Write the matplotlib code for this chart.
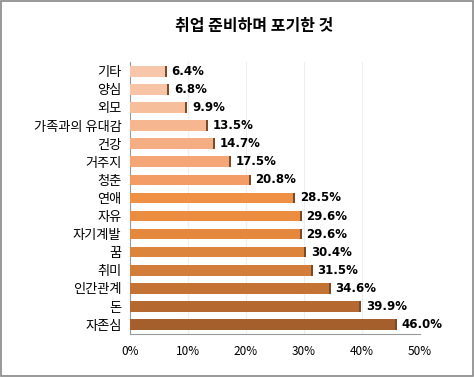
import matplotlib
matplotlib.use('Agg')
import matplotlib.pyplot as plt
from matplotlib.patches import Rectangle
import numpy as np

plt.rcParams['font.family'] = ['Noto Sans CJK KR', 'DejaVu Sans']

categories = ['기타', '양심', '외모', '가족과의 유대감', '건강', '거주지', '청춘',
              '연애', '자유', '자기계발', '꿈', '취미', '인간관계', '돈', '자존심']
values = [6.4, 6.8, 9.9, 13.5, 14.7, 17.5, 20.8, 28.5, 29.6, 29.6, 30.4, 31.5, 34.6, 39.9, 46.0]
colors = ['#F8C6AA', '#F8C4A6', '#F7BE9C', '#F6B690', '#F5AE84', '#F4A676', '#F39C66',
          '#F09044', '#EB8C40', '#E4883E', '#DC843C', '#D27D39', '#C47334', '#B56930', '#A45F2D']

fig = plt.figure(figsize=(4.74, 3.77), dpi=100)
fig.patches.append(Rectangle((0.003, 0.003), 0.994, 0.994, transform=fig.transFigure,
                             fill=False, edgecolor='#888888', linewidth=1.2))

ax = fig.add_axes([0.274, 0.115, 0.612, 0.72])
y = np.arange(len(categories))
ax.barh(y, values, height=0.58, color=colors, edgecolor='none', zorder=3)
# darker end cap for the 3D look
ax.barh(y, [0.35] * len(values), left=np.array(values) - 0.35, height=0.58,
        color='#7a4a2a', edgecolor='none', zorder=4)

for yi, v in zip(y, values):
    ax.text(v + 0.8, yi, f'{v:.1f}%', va='center', ha='left', fontsize=8.5,
            fontweight='bold', family='DejaVu Sans')

ax.set_xlim(0, 50)
ax.set_ylim(len(categories) - 0.5, -0.5)
ax.set_xticks(range(0, 51, 10))
ax.set_xticklabels([f'{t}%' for t in range(0, 51, 10)], fontsize=8.5)
ax.set_yticks(y)
ax.set_yticklabels(categories, fontsize=9.5)
ax.tick_params(length=0, pad=6)
ax.tick_params(axis='x', pad=8)
ax.grid(axis='x', color='#eeeeee', linewidth=0.8, zorder=0)
for s in ['top', 'right']:
    ax.spines[s].set_visible(False)
for s in ['left', 'bottom']:
    ax.spines[s].set_color('#999999')

fig.text(0.536, 0.93, '취업 준비하며 포기한 것', ha='center', va='center',
         fontsize=11.5, fontweight='bold')

fig.savefig('out.png', dpi=100)
